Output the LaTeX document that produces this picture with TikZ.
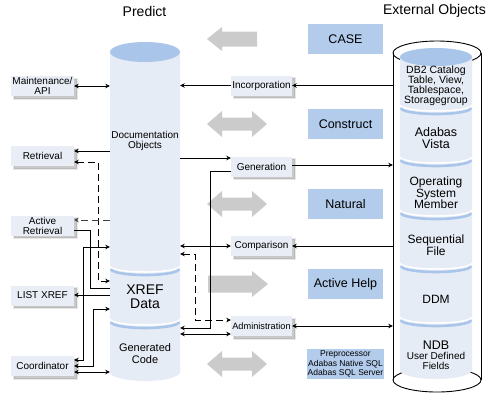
\documentclass[tikz,border=0pt]{standalone}
\usepackage{fontspec}
\setmainfont{Liberation Sans}
\usetikzlibrary{arrows.meta}
\definecolor{bodyc}{HTML}{E6ECF5}
\definecolor{topc}{HTML}{A9C6EA}
\definecolor{bluebox}{HTML}{B3CCEC}
\definecolor{smallbox}{HTML}{E8EDF6}
\definecolor{greyarr}{HTML}{CBCBCB}
\newcommand{\cylsep}[3]{%
  \draw[white, line width=1.5pt] (#1,#3-3) arc[start angle=180,end angle=0,x radius=#2,y radius=6];
  \draw[topc, line width=2.6pt] (#1+1,#3) arc[start angle=180,end angle=0,x radius=#2-1,y radius=6];}
\begin{document}
\begin{tikzpicture}[x=1pt,y=-1pt,
  >={Stealth[length=4.5pt,width=4.5pt]},
  conn/.style={line width=0.9pt},
  dsh/.style={dash pattern=on 7pt off 4pt},
  sbox/.style={fill=smallbox, minimum height=20, inner sep=1, align=center,
    font=\fontsize{10}{10}\selectfont,
    preaction={fill=black!60, fill opacity=0.35, draw=black!60, draw opacity=0.15,
      line width=2pt, transform canvas={shift={(2.5pt,-2.5pt)}}}},
  lbox/.style={sbox, minimum width=63},
  mbox/.style={sbox, minimum width=61},
  bbox/.style={fill=bluebox, minimum width=75, minimum height=30, inner sep=1, align=center,
    font=\fontsize{12.5}{14}\selectfont},
  garr/.style={fill=greyarr},
  txt/.style={align=center, inner sep=0}]
\useasboundingbox (0,0) rectangle (500,400);
\fill[white] (0,0) rectangle (500,400);

% headers
\node[txt, font=\fontsize{14}{14}\selectfont] (hp) at (144.5,11) {Predict};
\node[txt, font=\fontsize{14}{14}\selectfont] (he) at (434.5,11) {External Objects};

% Predict cylinder
\fill[bodyc] (110,52) -- (110,372) arc[start angle=180,end angle=0,x radius=35,y radius=9] -- (180,52) -- cycle;
\fill[topc] (145,52) ellipse[x radius=35,y radius=10];
\cylsep{110}{35}{269}
\cylsep{110}{35}{322}
\node[minimum width=70, minimum height=330, inner sep=0] (pred) at (145,217) {};
\node[txt, font=\fontsize{10}{10}\selectfont] (doc) at (145,141) {Documentation\\Objects};
\node[txt, font=\fontsize{14}{14}\selectfont] (xref) at (145,297) {XREF\\Data};
\node[txt, font=\fontsize{11}{11.5}\selectfont] (gcode) at (145,353.5) {Generated\\Code};

% External cylinder
\draw[line width=0.9pt] (437,380) ellipse[x radius=44,y radius=12];
\draw[line width=0.9pt, fill=white] (437,53) ellipse[x radius=44,y radius=12];
\draw[line width=0.9pt] (393,53) -- (393,380);
\draw[line width=0.9pt] (481,53) -- (481,380);
\fill[bodyc] (400,57) -- (400,370) arc[start angle=180,end angle=0,x radius=36,y radius=9] -- (472,57) -- cycle;
\fill[topc] (436,57) ellipse[x radius=36,y radius=9];
\cylsep{400}{36}{108}
\cylsep{400}{36}{160}
\cylsep{400}{36}{213}
\cylsep{400}{36}{266}
\cylsep{400}{36}{320}
\node[minimum width=88, minimum height=330, inner sep=0] (ext) at (437,217) {};
\node[txt, font=\fontsize{10.5}{10}\selectfont] (db2) at (436,86) {DB2 Catalog\\Table, View,\\Tablespace,\\Storagegroup};
\node[txt, font=\fontsize{12.5}{12}\selectfont] (vista) at (436,138) {Adabas\\Vista};
\node[txt, font=\fontsize{12}{11.5}\selectfont] (osm) at (436,193) {Operating\\System\\Member};
\node[txt, font=\fontsize{12}{12}\selectfont] (seq) at (436,245) {Sequential\\File};
\node[txt, font=\fontsize{12}{12}\selectfont] (ddm) at (436,299) {DDM};
\node[txt, font=\fontsize{10}{10}\selectfont] (ndb) at (436,355) {{\fontsize{12.5}{10}\selectfont NDB}\\User Defined\\Fields};

% grey arrows
\fill[garr, shift={(0,39)}] (207,0) -- (222,-12) -- (222,-7.5) -- (257,-7.5) -- (257,7.5) -- (222,7.5) -- (222,12) -- cycle;
\foreach \yy in {124,204,364}{
  \fill[garr, shift={(0,\yy)}] (207,0) -- (222,-13) -- (222,-6.5) -- (252,-6.5) -- (252,-13) -- (267,0)
    -- (252,13) -- (252,6.5) -- (222,6.5) -- (222,13) -- cycle;}
\fill[garr, shift={(0,284)}] (208,-8.5) -- (252,-8.5) -- (252,-13) -- (268,0) -- (252,13) -- (252,8.5) -- (208,8.5) -- cycle;

% blue boxes
\node[bbox] (case) at (345.5,39) {CASE};
\node[bbox] (constr) at (345.5,124) {Construct};
\node[bbox] (nat) at (345.5,204) {Natural};
\node[bbox] (ahelp) at (345.5,284) {Active Help};
\node[bbox, font=\fontsize{8.5}{9.2}\selectfont] (prep) at (345.5,364) {Preprocessor\\Adabas Native SQL\\Adabas SQL Server};

% small boxes
\node[lbox] (mnt) at (42.5,86) {Maintenance/\\API};
\node[lbox] (retr) at (42.5,156) {Retrieval};
\node[lbox] (aretr) at (42.5,225.5) {Active\\Retrieval};
\node[lbox] (listx) at (42.5,295.5) {LIST XREF};
\node[lbox] (coord) at (42.5,366) {Coordinator};
\node[mbox] (inc) at (261.5,85.5) {Incorporation};
\node[mbox] (gen) at (261.5,166.5) {Generation};
\node[mbox] (cmp) at (261.5,246) {Comparison};
\node[mbox, font=\fontsize{9.2}{10}\selectfont] (adm) at (261.5,326) {Administration};

% connectors left
\draw[conn,<->] (mnt.east) -- (mnt.east -| pred.west);
\draw[conn,->] (pred.west |- 0,151) -- (retr.east |- 0,151);
\draw[conn,dsh,<->] (retr.east |- 0,162) -| (98,281) -- (pred.west |- 0,281);
\draw[conn,dsh,black!75,->] (pred.west |- 0,220) -- (aretr.east |- 0,220);
\draw[conn] (aretr.east |- 0,230) -| (90,288) -- (pred.west |- 0,288);
\draw[conn,->] (pred.west |- 0,295) -- (listx.east |- 0,295);
\draw[conn,<->] (coord.east |- 0,360) -| (83,247) -- (pred.west |- 0,247);
\draw[conn,<->] (coord.east |- 0,366) -| (93,309) -- (pred.west |- 0,309);
\draw[conn,<->] (coord.east |- 0,372) -- (pred.west |- 0,372);

% connectors middle
\draw[conn,->] (inc.west) -- (inc.west -| pred.east);
\draw[conn,->] (inc.east -| ext.west) -- (inc.east);
\draw[conn,->] (pred.east |- 0,158) -- (gen.west |- 0,158);
\draw[conn,->] (gen.east |- 0,165) -- (ext.west |- 0,165);
\draw[conn,->] (gen.west |- 0,171) -| (210,328) -- (pred.east |- 0,328);
\draw[conn,<->] (pred.east |- 0,246) -- (cmp.west |- 0,246);
\draw[conn,->] (ext.west |- 0,246) -- (cmp.east |- 0,246);
\draw[conn,dsh,<->] (pred.east |- 0,254) -| (195,320) -- (adm.west |- 0,320);
\draw[conn,<->] (pred.east |- 0,334) -- (adm.west |- 0,334);
\draw[conn,<->] (ext.west |- 0,326) -- (adm.east |- 0,326);
\end{tikzpicture}
\end{document}
